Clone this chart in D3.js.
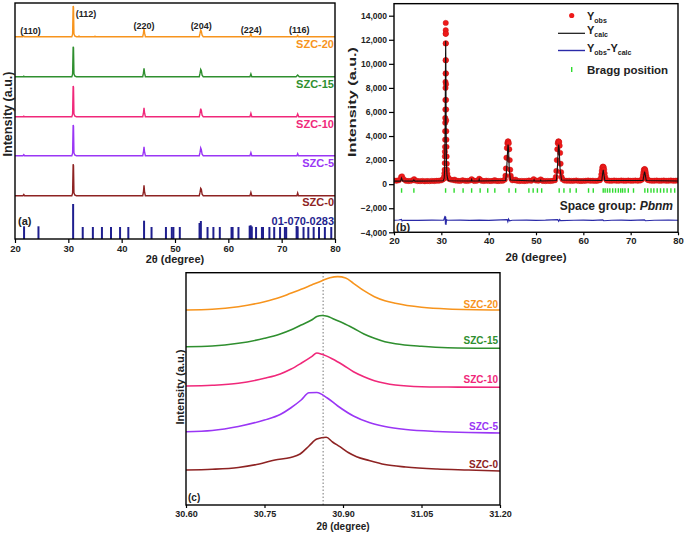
<!DOCTYPE html>
<html><head><meta charset="utf-8">
<script src="https://cdn.jsdelivr.net/npm/d3@7"></script>
<style>
body{margin:0;background:#fff}
svg{display:block;font-family:"Liberation Sans",Arial,sans-serif;font-weight:bold}
</style>
</head><body><svg id="fig" width="685" height="534"></svg>
<script>
// ---------------- DATA ----------------
// Panel (a): XRD patterns, intensity above each pattern's own baseline (a.u.)
const aSeriesNames = ["SZC-0","SZC-5","SZC-10","SZC-15","SZC-20"];
const aColors = ["#8e2323","#9a36f5","#f0287a","#2f8f2f","#f7941d"];
const aOffsets = [43.3, 83.3, 122.3, 162.3, 202.3];
const szc0A = [[20,0],[21.5,0],[21.65,1.2],[21.8,0],[30.65,0],[30.8,2.5],[30.9,31.4],[30.97,30],[31.05,3],[31.2,0.7],[31.5,0],[43.95,0],[44.08,3.5],[44.19,10.4],[44.3,3.5],[44.45,0],[54.55,0],[54.7,3.5],[54.82,7.4],[54.94,6.5],[55.08,1.5],[55.3,0],[64.05,0],[64.23,3.4],[64.4,0],[72.85,0],[73.0,2.7],[73.15,0],[80,0]];
const szc5A = [[20,0],[21.5,0],[21.65,1],[21.8,0],[30.65,0],[30.8,2.5],[30.9,30.7],[30.97,29.5],[31.05,3],[31.2,0.7],[31.5,0],[43.95,0],[44.08,3.5],[44.19,9],[44.3,3.5],[44.45,0],[54.55,0],[54.7,3.5],[54.82,7.7],[54.94,6],[55.08,1.5],[55.3,0],[64.05,0],[64.23,3],[64.4,0],[72.85,0],[73.0,2],[73.15,0],[80,0]];
const szc10A = [[20,0],[21.5,0],[21.65,0.6],[21.8,0],[30.65,0],[30.8,2.5],[30.9,30.7],[30.97,29.5],[31.05,3],[31.2,0.7],[31.5,0],[43.95,0],[44.08,3.5],[44.19,9],[44.3,3.5],[44.45,0],[54.55,0],[54.7,3.5],[54.82,8],[54.94,6.3],[55.08,1.5],[55.3,0],[64.05,0],[64.23,3.4],[64.4,0],[72.8,0],[73.0,2.7],[73.2,0],[80,0]];
const szc15A = [[20,0],[21.5,0],[21.65,0.6],[21.8,0],[30.65,0],[30.8,2.5],[30.9,30],[30.97,29],[31.05,3],[31.2,0.8],[31.5,0],[43.95,0],[44.08,3.5],[44.19,8.3],[44.3,3.5],[44.45,0],[54.55,0],[54.7,3.5],[54.82,7.3],[54.94,6],[55.08,1.5],[55.3,0],[64.05,0],[64.23,2.7],[64.4,0],[72.7,0],[73.0,1.7],[73.3,0],[80,0]];
const szc20A = [[20,0],[21.5,0],[21.65,0.8],[21.8,0],[30.65,0],[30.8,2.5],[30.9,30.7],[30.97,29.5],[31.05,3],[31.2,0.8],[31.5,0],[31.9,0],[32.0,0.6],[32.1,0],[34.9,0],[35.0,0.5],[35.1,0],[43.95,0],[44.08,3.5],[44.19,8.3],[44.3,3.5],[44.45,0],[54.55,0],[54.7,3.5],[54.82,6.7],[54.94,5.5],[55.08,1.5],[55.3,0],[64.05,0],[64.23,2.7],[64.4,0],[72.85,0],[73.0,1.3],[73.15,0],[80,0]];
const aPatterns = [szc0A, szc5A, szc10A, szc15A, szc20A];
// reference card 01-070-0283 sticks: [2theta, relative height]
const refSticks = [[21.7,12.7],[24.4,12.7],[30.9,35],[32.7,12],[34.6,12],[36.3,12],[38.0,12],[39.7,12],[41.25,12],[44.2,18.3],[45.6,12],[48.3,12],[49.4,12],[49.7,12],[50.9,12],[54.6,16],[54.85,18],[56.1,12],[57.2,12],[58.4,12],[60.6,12],[60.8,12],[61.9,12],[64.0,13.3],[64.2,13.7],[64.4,12.5],[65.2,12],[66.3,12],[66.5,12],[67.7,12],[68.6,12],[69.7,12],[70.6,12],[70.85,12],[72.8,13],[73.0,12.5],[74.1,12],[75.0,12],[76.0,12],[77.0,12],[78.1,12],[79.3,12]];
const hklLabels = ["(110)","(112)","(220)","(204)","(224)","(116)"];
const hklPos = [22.9, 33.3, 44.2, 54.9, 64.3, 73.3];
const hklHeight = [205.5, 222, 210.5, 210.5, 206, 206];
const xTicksA = [20,30,40,50,60,70,80];

// Panel (b): Rietveld refinement
const yObs = [[20.0,300],[20.5,280],[21.0,320],[21.5,600],[21.7,650],[22.0,420],[22.5,290],[23.0,260],[23.5,270],[24.0,330],[24.25,420],[24.5,300],[25.0,260],[25.5,250],[26.0,270],[26.5,240],[27.0,260],[27.5,250],[28.0,270],[28.5,260],[29.0,280],[29.5,290],[30.0,320],[30.3,400],
[30.5,450],[30.6,650],[30.65,900],[30.7,1200],[30.72,1750],[30.75,2300],[30.76,2700],[30.78,3100],[30.8,3700],[30.8,4400],[30.82,5100],[30.83,5500],[30.85,6200],[30.86,7000],[30.88,8000],[30.88,8500],[30.9,9200],[30.9,10300],[30.92,11700],[30.92,12500],[30.93,12800],[30.93,13400],[30.95,12500],[30.96,11700],[30.97,10300],[30.98,9200],[30.99,8300],[31.0,7000],[31.02,6200],[31.03,5300],[31.05,4400],[31.07,3700],[31.1,3100],[31.12,2300],[31.15,1700],[31.2,1200],[31.25,900],[31.3,700],[31.4,550],
[31.6,450],[32.0,380],[32.5,340],[32.8,380],[33.0,300],[33.5,280],[34.0,270],[34.5,320],[35.0,280],[35.5,270],[36.0,300],[36.4,420],[36.8,300],[37.0,270],[37.5,290],[38.0,450],[38.3,350],[38.5,280],[39.0,260],[39.5,290],[40.0,270],[40.5,260],[41.0,290],[41.3,330],[41.6,270],[42.0,260],[42.5,270],[43.0,290],[43.4,380],
[43.55,700],[43.65,1300],[43.75,2200],[43.85,3000],[43.95,3400],[44.05,3550],[44.15,3550],[44.25,3400],[44.35,2900],[44.45,2000],[44.55,1200],[44.65,700],[44.8,450],
[45.0,320],[45.5,330],[45.7,380],[46.0,280],[46.5,260],[47.0,270],[47.5,260],[48.0,270],[48.5,300],[49.0,280],[49.5,420],[50.0,300],[50.5,290],[51.0,400],[51.3,300],[51.5,270],[52.0,260],[52.5,270],[53.0,260],[53.5,280],[54.0,330],
[54.2,600],[54.3,1100],[54.4,2000],[54.5,2900],[54.6,3400],[54.7,3550],[54.8,3550],[54.9,3500],[55.0,3200],[55.1,2600],[55.2,1700],[55.3,1000],[55.4,600],[55.6,400],
[56.0,300],[56.5,280],[57.0,290],[57.5,270],[58.0,280],[58.5,300],[59.0,270],[59.5,260],[60.0,270],[60.5,280],[61.0,300],[61.5,280],[62.0,290],[62.5,270],[63.0,280],[63.5,330],
[63.7,500],[63.8,800],[63.9,1100],[64.0,1350],[64.1,1450],[64.2,1450],[64.3,1400],[64.4,1200],[64.5,900],[64.6,600],[64.8,400],
[65.0,300],[65.5,290],[66.0,280],[66.5,300],[67.0,290],[67.5,280],[68.0,300],[68.5,290],[69.0,280],[69.5,300],[70.0,280],[70.5,290],[71.0,300],[71.5,280],[72.0,300],[72.4,380],
[72.5,500],[72.6,750],[72.7,1000],[72.8,1200],[72.9,1250],[73.0,1250],[73.1,1150],[73.2,950],[73.3,700],[73.4,500],[73.6,350],
[74.0,300],[74.5,280],[75.0,290],[75.5,300],[76.0,280],[76.5,290],[77.0,300],[77.5,280],[78.0,290],[78.5,300],[79.0,280],[79.5,290],[80.0,300]];
const yCalc = [[20,250],[21.4,250],[21.6,500],[21.8,260],[24.0,250],[24.2,350],[24.4,250],[30.4,280],[30.6,500],[30.7,1200],[30.8,4500],[30.88,10000],[30.92,11900],[30.96,10000],[31.02,4500],[31.1,1500],[31.2,700],[31.4,350],[31.6,280],[36.3,260],[36.4,380],[36.5,260],[37.9,260],[38.0,400],[38.1,260],[43.6,300],[43.8,1200],[44.0,2800],[44.1,3300],[44.2,2900],[44.35,1200],[44.6,350],[49.5,260],[49.6,350],[49.7,260],[50.9,260],[51.0,330],[51.1,260],[54.3,300],[54.5,1200],[54.7,2900],[54.8,3300],[54.9,2900],[55.1,1200],[55.4,350],[63.9,300],[64.05,800],[64.2,1200],[64.35,800],[64.55,300],[72.6,300],[72.8,750],[72.95,1050],[73.1,750],[73.3,300],[80,260]];
const yDiff = [[20,-3000],[21.0,-2980],[21.6,-2930],[21.7,-3060],[22,-3000],[25,-3010],[28,-2990],[30.5,-3000],[30.8,-2650],[30.88,-3350],[30.92,-2700],[30.97,-3380],[31.1,-2950],[31.3,-3000],[34,-2990],[36,-3010],[38,-2980],[40,-3010],[43.9,-2950],[44.05,-3120],[44.2,-2900],[44.4,-3050],[45,-3000],[48,-2990],[50,-3010],[52,-2995],[54.6,-2950],[54.8,-3080],[55.0,-2940],[55.2,-3030],[58,-3000],[60,-2990],[62,-3010],[64.1,-2960],[64.3,-3040],[66,-3000],[68,-2990],[70,-3005],[72.9,-2960],[73.1,-3040],[75,-3000],[78,-2995],[80,-3000]];
const braggPos = [21.6,24.2,30.9,32.7,34.6,36.4,38.2,39.8,41.3,44.3,45.7,48.5,49.4,50.3,51.2,54.9,55.9,57.2,58.5,61.1,62.1,64.2,64.6,65.1,65.6,66.2,66.8,67.4,67.9,68.3,68.8,69.5,70.6,73.0,73.6,74.3,74.9,75.6,76.3,77.0,77.7,78.5,79.3];
const xTicksB = [20,30,40,50,60,70,80];
const yTicksB = [-4000,-2000,0,2000,4000,6000,8000,10000,12000,14000];

// Panel (c): zoom of (112) peak, stacked (a.u.)
const cNames = ["SZC-0","SZC-5","SZC-10","SZC-15","SZC-20"];
const szc0C = [[30.60,35],[30.65,35.7],[30.70,37.5],[30.74,41],[30.77,45],[30.80,47.5],[30.818,51],[30.835,59],[30.85,66],[30.868,67.7],[30.88,63],[30.894,58.3],[30.91,52.5],[30.926,48.3],[30.95,44.5],[30.98,40.5],[31.02,38],[31.08,36],[31.14,35],[31.20,34]];
const szc5C = [[30.60,73.3],[30.65,74.5],[30.70,78.5],[30.75,85],[30.78,90.5],[30.80,97],[30.82,105],[30.835,112.3],[30.85,112.5],[30.87,107],[30.89,99],[30.92,89],[30.95,82.5],[30.98,78.5],[31.02,75.5],[31.08,73.5],[31.14,72.5],[31.20,72]];
const szc10C = [[30.60,119],[30.65,119.7],[30.70,121.7],[30.75,126.7],[30.78,131],[30.80,135.7],[30.82,141.7],[30.84,148.3],[30.85,152],[30.86,150.7],[30.88,146],[30.90,140],[30.92,133.3],[30.94,128.3],[30.96,124.3],[30.98,121.7],[31.00,120],[31.05,118.3],[31.10,118],[31.20,117.7]];
const szc15C = [[30.60,158.3],[30.65,159],[30.70,161.7],[30.75,166.7],[30.78,171],[30.80,175],[30.82,180],[30.84,185],[30.85,188.5],[30.86,189.5],[30.87,188.8],[30.88,186.5],[30.90,182],[30.92,176.7],[30.94,171],[30.96,166.7],[30.98,163.3],[31.00,161.3],[31.05,158.7],[31.10,157.3],[31.20,156.7]];
const szc20C = [[30.60,195],[30.65,195.7],[30.70,198.3],[30.75,203.3],[30.78,207.7],[30.80,211.7],[30.82,215.7],[30.84,220],[30.86,224.3],[30.875,227.2],[30.89,228.4],[30.905,227],[30.92,221.7],[30.94,214.3],[30.96,208.3],[30.98,204.3],[31.00,201.7],[31.05,197.7],[31.10,196],[31.20,195]];
const cCurves = [szc0C, szc5C, szc10C, szc15C, szc20C];
const cLabelY = [37.5, 75, 122, 161, 197.5];
const refLineC = 30.862;
const xTicksC = [30.60,30.75,30.90,31.05,31.20];

// ---------------- DRAW ----------------
const svg = d3.select("#fig");
const axisStyle = (g, fs) => {
  g.select(".domain").remove();
  g.selectAll("line").attr("stroke","#000").attr("stroke-width",1.2);
  g.selectAll("text").attr("font-size",fs).attr("font-weight","bold").attr("fill","#222")
   .attr("font-family","'Liberation Sans',Arial,sans-serif");
};

// ===== Panel (a) =====
const xA = d3.scaleLinear().domain([20,80]).range([15,335]);
const yA = d3.scaleLinear().domain([0,236]).range([239,3]);
const gA = svg.append("g");
const defs = svg.append("defs");
defs.append("clipPath").attr("id","clipA").append("rect").attr("x",15).attr("y",3).attr("width",320).attr("height",236);
defs.append("clipPath").attr("id","clipB").append("rect").attr("x",394).attr("y",3.67).attr("width",284).attr("height",228.6);
defs.append("clipPath").attr("id","clipC").append("rect").attr("x",186).attr("y",272.7).attr("width",314).attr("height",232.3);

const plotA = gA.append("g").attr("clip-path","url(#clipA)");
plotA.selectAll(".stick").data(refSticks).join("line")
  .attr("x1",d=>xA(d[0])).attr("x2",d=>xA(d[0]))
  .attr("y1",yA(0)).attr("y2",d=>yA(d[1]))
  .attr("stroke","#1f1f8f").attr("stroke-width",2);
aPatterns.forEach((pat,i)=>{
  const off = aOffsets[i];
  plotA.append("path").datum(pat)
    .attr("d", d3.line().x(d=>xA(d[0])).y(d=>yA(d[1]+off)))
    .attr("fill","none").attr("stroke",aColors[i]).attr("stroke-width",1.4);
});
gA.append("rect").attr("x",15).attr("y",3).attr("width",320).attr("height",236)
  .attr("fill","none").attr("stroke","#000").attr("stroke-width",1.4);
gA.append("g").attr("transform","translate(0,239)")
  .call(d3.axisBottom(xA).tickValues(xTicksA).tickSize(4).tickPadding(2))
  .call(g=>axisStyle(g,9.5));
aSeriesNames.forEach((n,i)=>{
  gA.append("text").attr("x",334).attr("y",yA(aOffsets[i])+ (i===0?10.5:11))
    .attr("text-anchor","end").attr("font-size",11).attr("fill",aColors[i]).text(n);
});
gA.append("text").attr("x",334).attr("y",224.5).attr("text-anchor","end")
  .attr("font-size",11).attr("fill","#1f1f8f").text("01-070-0283");
gA.append("text").attr("x",18).attr("y",224.5).attr("font-size",11).attr("fill","#222").text("(a)");
hklLabels.forEach((t,i)=>{
  gA.append("text").attr("x",xA(hklPos[i])).attr("y",yA(hklHeight[i]))
    .attr("text-anchor","middle").attr("font-size",9).attr("fill","#222").text(t);
});
gA.append("text").attr("x",175).attr("y",263).attr("text-anchor","middle")
  .attr("font-size",11).attr("fill","#222").text("2θ (degree)");
gA.append("text").attr("transform","translate(11.5,114) rotate(-90)")
  .attr("text-anchor","middle").attr("font-size",12).attr("fill","#222")
  .attr("textLength",85).attr("lengthAdjust","spacingAndGlyphs").text("Intensity (a.u.)");

// ===== Panel (b) =====
const xB = d3.scaleLinear().domain([20,80]).range([394,678]);
const yB = d3.scaleLinear().domain([-4000,15000]).range([232.3,3.67]);
const gB = svg.append("g");
const plotB = gB.append("g").attr("clip-path","url(#clipB)");
plotB.selectAll(".obs").data(yObs).join("circle")
  .attr("cx",d=>xB(d[0])).attr("cy",d=>yB(d[1])).attr("r",2.7)
  .attr("fill","#ee1a1a").attr("stroke","#c40f0f").attr("stroke-width",0.4);
plotB.append("path").datum(yCalc)
  .attr("d",d3.line().x(d=>xB(d[0])).y(d=>yB(d[1])))
  .attr("fill","none").attr("stroke","#111").attr("stroke-width",1.1);
plotB.selectAll(".bragg").data(braggPos).join("line")
  .attr("x1",d=>xB(d)).attr("x2",d=>xB(d))
  .attr("y1",yB(-330)).attr("y2",yB(-720))
  .attr("stroke","#2fdc2f").attr("stroke-width",1.4);
plotB.append("path").datum(yDiff)
  .attr("d",d3.line().x(d=>xB(d[0])).y(d=>yB(d[1])))
  .attr("fill","none").attr("stroke","#2a2aa8").attr("stroke-width",1.2);
gB.append("rect").attr("x",394).attr("y",3.67).attr("width",284).attr("height",228.6)
  .attr("fill","none").attr("stroke","#000").attr("stroke-width",1.4);
gB.append("g").attr("transform","translate(0,232.3)")
  .call(d3.axisBottom(xB).tickValues(xTicksB).tickSize(3).tickPadding(2))
  .call(g=>axisStyle(g,9.5));
gB.append("g").attr("transform","translate(394,0)")
  .call(d3.axisLeft(yB).tickValues(yTicksB).tickSize(5).tickPadding(2))
  .call(g=>axisStyle(g,8.5));
// legend
gB.append("circle").attr("cx",571.7).attr("cy",15.5).attr("r",2.6).attr("fill","#ee1a1a");
const leg1 = gB.append("text").attr("x",587).attr("y",19.5).attr("font-size",11).attr("fill","#222");
leg1.append("tspan").text("Y");
leg1.append("tspan").attr("dy",3).attr("font-size",7).text("obs");
gB.append("line").attr("x1",558).attr("x2",585).attr("y1",33.3).attr("y2",33.3).attr("stroke","#111").attr("stroke-width",1.2);
const leg2 = gB.append("text").attr("x",587).attr("y",34).attr("font-size",11).attr("fill","#222");
leg2.append("tspan").text("Y");
leg2.append("tspan").attr("dy",3).attr("font-size",7).text("calc");
gB.append("line").attr("x1",558).attr("x2",585).attr("y1",50.5).attr("y2",50.5).attr("stroke","#2a2aa8").attr("stroke-width",1.4);
const leg3 = gB.append("text").attr("x",587).attr("y",52).attr("font-size",11).attr("fill","#222");
leg3.append("tspan").text("Y");
leg3.append("tspan").attr("dy",3).attr("font-size",7).text("obs");
leg3.append("tspan").attr("dy",-3).text("-Y");
leg3.append("tspan").attr("dy",3).attr("font-size",7).text("calc");
gB.append("line").attr("x1",571.7).attr("x2",571.7).attr("y1",67).attr("y2",72).attr("stroke","#2fdc2f").attr("stroke-width",1.4);
gB.append("text").attr("x",587).attr("y",73.5).attr("font-size",11.5).attr("fill","#222").text("Bragg position");
const sg = gB.append("text").attr("x",673).attr("y",209.5).attr("text-anchor","end").attr("font-size",12).attr("fill","#222");
sg.append("tspan").text("Space group: ");
sg.append("tspan").attr("font-style","italic").text("Pbnm");
gB.append("text").attr("x",396).attr("y",231).attr("font-size",11).attr("fill","#222").text("(b)");
gB.append("text").attr("x",536).attr("y",261).attr("text-anchor","middle")
  .attr("font-size",11.5).attr("fill","#222").text("2θ (degree)");
gB.append("text").attr("transform","translate(356,102) rotate(-90)")
  .attr("text-anchor","middle").attr("font-size",11.5).attr("fill","#222")
  .attr("textLength",110).attr("lengthAdjust","spacingAndGlyphs").text("Intensity (a.u.)");

// ===== Panel (c) =====
const xC = d3.scaleLinear().domain([30.6,31.2]).range([186,500]);
const yC = d3.scaleLinear().domain([0,232.3]).range([505,272.7]);
const gC = svg.append("g");
const plotC = gC.append("g").attr("clip-path","url(#clipC)");
plotC.append("line").attr("x1",xC(refLineC)).attr("x2",xC(refLineC))
  .attr("y1",yC(0)).attr("y2",yC(232.3))
  .attr("stroke","#777").attr("stroke-width",1).attr("stroke-dasharray","1.5,2");
cCurves.forEach((cv,i)=>{
  plotC.append("path").datum(cv)
    .attr("d",d3.line().curve(d3.curveMonotoneX).x(d=>xC(d[0])).y(d=>yC(d[1])))
    .attr("fill","none").attr("stroke",aColors[i]).attr("stroke-width",1.6);
  gC.append("text").attr("x",498).attr("y",yC(cLabelY[i])).attr("text-anchor","end")
    .attr("font-size",10).attr("fill",aColors[i]).text(cNames[i]);
});
gC.append("rect").attr("x",186).attr("y",272.7).attr("width",314).attr("height",232.3)
  .attr("fill","none").attr("stroke","#000").attr("stroke-width",1.4);
gC.append("g").attr("transform","translate(0,505)")
  .call(d3.axisBottom(xC).tickValues(xTicksC).tickFormat(d3.format(".2f")).tickSize(3).tickPadding(3))
  .call(g=>axisStyle(g,9));
gC.append("text").attr("x",188).attr("y",501).attr("font-size",10).attr("fill","#222").text("(c)");
gC.append("text").attr("x",343).attr("y",529.5).attr("text-anchor","middle")
  .attr("font-size",10).attr("fill","#222").text("2θ (degree)");
gC.append("text").attr("transform","translate(183.5,387) rotate(-90)")
  .attr("text-anchor","middle").attr("font-size",10.5).attr("fill","#222")
  .attr("textLength",75).attr("lengthAdjust","spacingAndGlyphs").text("Intensity (a.u.)");
</script></body></html>
